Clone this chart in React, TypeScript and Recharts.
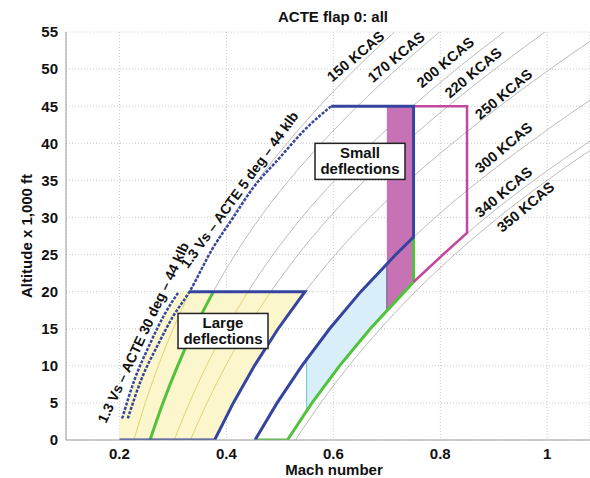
import React from "react";
import {
  ComposedChart,
  Line,
  Area,
  XAxis,
  YAxis,
  CartesianGrid,
  ReferenceArea,
  ReferenceDot,
  Label,
} from "recharts";

type Pt = [number, number];

// ---------- axes ----------
const machTicks = [0.2, 0.4, 0.6, 0.8, 1];
const altTicks = [0, 5, 10, 15, 20, 25, 30, 35, 40, 45, 50, 55];

// ---------- constant-KCAS lines: [Mach, altitude x1000 ft] ----------
const kcas150: Pt[] = [[0.2268, 0], [0.2483, 5], [0.2727, 10], [0.3004, 15], [0.3321, 20], [0.3684, 25], [0.4101, 30], [0.4584, 35], [0.5134, 40], [0.5742, 45], [0.6411, 50], [0.7142, 55]];
const kcas170: Pt[] = [[0.257, 0], [0.2813, 5], [0.3088, 10], [0.34, 15], [0.3756, 20], [0.4163, 25], [0.463, 30], [0.5168, 35], [0.5779, 40], [0.6451, 45], [0.7186, 50], [0.7985, 55]];
const kcas200: Pt[] = [[0.3024, 0], [0.3307, 5], [0.3628, 10], [0.3991, 15], [0.4404, 20], [0.4874, 25], [0.5411, 30], [0.6027, 35], [0.6722, 40], [0.7483, 45], [0.8305, 50], [0.9192, 55]];
const kcas220: Pt[] = [[0.3326, 0], [0.3637, 5], [0.3987, 10], [0.4383, 15], [0.4832, 20], [0.5343, 25], [0.5924, 30], [0.6589, 35], [0.7335, 40], [0.8146, 45], [0.9022, 50], [0.9959, 55]];
const kcas250: Pt[] = [[0.378, 0], [0.4129, 5], [0.4523, 10], [0.4967, 15], [0.5469, 20], [0.6037, 25], [0.6681, 30], [0.7412, 35], [0.8229, 40], [0.9111, 45], [1.0054, 50], [1.08, 53.75]];
const kcas300: Pt[] = [[0.4535, 0], [0.4948, 5], [0.5411, 10], [0.593, 15], [0.6513, 20], [0.7169, 25], [0.7906, 30], [0.8736, 35], [0.9653, 40], [1.0432, 44], [1.08, 45.8]];
const kcas340: Pt[] = [[0.514, 0], [0.5601, 5], [0.6115, 10], [0.669, 15], [0.7333, 20], [0.8052, 25], [0.8854, 30], [0.9752, 35], [1.0335, 38], [1.08, 40.3]];
const kcas350: Pt[] = [[0.5291, 0], [0.5764, 5], [0.6291, 10], [0.6879, 15], [0.7536, 20], [0.8269, 25], [0.9087, 30], [1.0, 35], [1.0693, 38.5], [1.08, 39.0]];

const kcasNames = ["150 KCAS", "170 KCAS", "200 KCAS", "220 KCAS", "250 KCAS", "300 KCAS", "340 KCAS", "350 KCAS"];
const kcasLabelMach = [0.598, 0.674, 0.766, 0.818, 0.875, 0.875, 0.875, 0.916];
const kcasLabelAlt = [48.2, 48.1, 47.4, 46.0, 43.1, 35.9, 29.9, 27.9];

// ---------- envelope boundaries ----------
const stall30: Pt[] = [[0.205, 2.9], [0.228, 8.1], [0.256, 12.8], [0.284, 16.9], [0.311, 20]];
const stall5: Pt[] = [[0.2156, 2.9], [0.2405, 8.1], [0.2716, 12.8], [0.2997, 16.6], [0.331, 20], [0.374, 25.8], [0.412, 29.9], [0.449, 33.9], [0.499, 38.0], [0.549, 42.0], [0.596, 45]];
const blueLarge: Pt[] = [[0.2, 0], [0.378, 0], [0.4129, 5], [0.4523, 10], [0.4967, 15], [0.5469, 20], [0.331, 20]];
const blueSmall: Pt[] = [[0.4535, 0], [0.4948, 5], [0.5411, 10], [0.593, 15], [0.6513, 20], [0.7169, 25], [0.75, 27.35], [0.75, 45], [0.596, 45]];
const greenHigh: Pt[] = [[0.455, 0], [0.514, 0], [0.5601, 5], [0.6115, 10], [0.669, 15], [0.7333, 20], [0.75, 21.3], [0.75, 27.35]];
const magentaOutline: Pt[] = [[0.75, 45], [0.85, 45], [0.85, 27.9], [0.8052, 25], [0.75, 21.3]];
const cyanEdge: Pt[] = [[0.55, 3.9], [0.55, 10.9]];
const darkEdge: Pt[] = [[0.7, 17.4], [0.7, 23.7]];

// ---------- filled regions ----------
const yellowMach = [0.2, 0.205, 0.228, 0.256, 0.284, 0.311, 0.378, 0.4129, 0.4523, 0.4967, 0.5469];
const yellowLow = [0, 0, 0, 0, 0, 0, 0, 5, 10, 15, 20];
const yellowHigh = [2.9, 2.9, 8.1, 12.8, 16.9, 20, 20, 20, 20, 20, 20];

const cyanMach = [0.55, 0.5601, 0.593, 0.6115, 0.6513, 0.669, 0.7];
const cyanLow = [3.9, 5.0, 8.2, 10.0, 13.5, 15.0, 17.4];
const cyanHigh = [10.9, 11.8, 15.0, 16.6, 20.0, 21.3, 23.7];

const magentaMach = [0.7, 0.7333, 0.75];
const magentaLow = [17.4, 20, 21.3];
const magentaHigh = [45, 45, 45];

// ---------- annotations ----------
const boxLarge = { x1: 0.3095, x2: 0.4778, y1: 12.34, y2: 17.06, lines: ["Large", "deflections"] };
const boxSmall = { x1: 0.5657, x2: 0.734, y1: 35.13, y2: 39.99, lines: ["Small", "deflections"] };
const stallLabels = [
  { text: "1.3 Vs \u2013 ACTE 30 deg \u2013 44 klb", m: 0.2445, a: 14.5, angle: -65 },
  { text: "1.3 Vs \u2013 ACTE 5 deg \u2013 44 klb", m: 0.4244, a: 33.75, angle: -54 },
];

const FONT = "'Liberation Sans', Arial, Helvetica, sans-serif";
const BLUE = "#34449f";
const GREEN = "#52c13c";
const MAGENTA = "#c4479f";
const GRAY = "#bcbcbc";
const YLINE = "#e2d46a";

const rows = (pts: Pt[]) => pts.map(([m, a]) => ({ m, a }));
const rangeRows = (ms: number[], lo: number[], hi: number[]) =>
  ms.map((m, i) => ({ m, r: [lo[i], hi[i]] }));

const kcasAll = [kcas150, kcas170, kcas200, kcas220, kcas250, kcas300, kcas340, kcas350];

const makeBox = (lines: string[]) => (props: any) => {
  const { x, y, width, height } = props;
  const cx = x + width / 2;
  const cy = y + height / 2;
  return (
    <g>
      <rect x={x} y={y} width={width} height={height} fill="#ffffff" stroke="#222" strokeWidth={1.5} />
      <text x={cx} y={cy - 3} textAnchor="middle" fontFamily={FONT} fontWeight={700} fontSize={15} fill="#111">
        {lines[0]}
      </text>
      <text x={cx} y={cy + 13} textAnchor="middle" fontFamily={FONT} fontWeight={700} fontSize={15} fill="#111">
        {lines[1]}
      </text>
    </g>
  );
};

export default function App() {
  return (
    <div style={{ position: "relative", width: 590, height: 478, background: "#fff" }}>
      <style>{`body{margin:0;background:#fff}`}</style>
      <div
        style={{
          position: "absolute",
          top: 8,
          left: 0,
          width: 590,
          paddingLeft: 76,
          boxSizing: "border-box",
          textAlign: "center",
          fontFamily: FONT,
          fontWeight: 700,
          fontSize: 15,
          color: "#111",
          lineHeight: "18px",
        }}
      >
        ACTE flap 0: all
      </div>
      <ComposedChart width={590} height={478} margin={{ top: 32, right: 0, bottom: 8, left: 0 }}>
        <CartesianGrid stroke="#cccccc" strokeDasharray="1 2" />
        <XAxis
          type="number"
          dataKey="m"
          domain={[0.1, 1.08]}
          ticks={machTicks}
          allowDataOverflow
          height={30}
          tickLine={false}
          axisLine={{ stroke: "#9c9c9c" }}
          tick={{ fill: "#111", fontSize: 15, fontWeight: 700, fontFamily: FONT }}
          tickFormatter={(v: number) => String(v)}
        >
          <Label
            content={(p: any) => {
              const vb = p.viewBox || {};
              return (
                <text x={vb.x + vb.width / 2 + 6} y={vb.y + 35} textAnchor="middle" fontFamily={FONT} fontWeight={700} fontSize={15} fill="#111">
                  Mach number
                </text>
              );
            }}
          />
        </XAxis>
        <YAxis
          type="number"
          domain={[0, 55]}
          ticks={altTicks}
          allowDataOverflow
          width={66}
          tickLine={false}
          axisLine={{ stroke: "#9c9c9c" }}
          tick={{ fill: "#111", fontSize: 15, fontWeight: 700, fontFamily: FONT }}
        >
          <Label
            content={(p: any) => {
              const vb = p.viewBox || {};
              const x = vb.x + 26;
              const y = vb.y + vb.height / 2;
              return (
                <text x={x} y={y} transform={`rotate(-90 ${x} ${y})`} textAnchor="middle" dominantBaseline="central" fontFamily={FONT} fontWeight={700} fontSize={15} fill="#111">
                  Altitude x 1,000 ft
                </text>
              );
            }}
          />
        </YAxis>

        {kcasAll.map((pts, i) => (
          <Line key={"k" + i} data={rows(pts)} dataKey="a" type="monotone" stroke={GRAY} strokeWidth={1} dot={false} activeDot={false} isAnimationActive={false} zIndex={100} />
        ))}

        <Area data={rangeRows(yellowMach, yellowLow, yellowHigh)} dataKey="r" type="linear" fill="#fbf6cc" fillOpacity={1} stroke="none" isAnimationActive={false} zIndex={200} />
        <Area data={rangeRows(cyanMach, cyanLow, cyanHigh)} dataKey="r" type="linear" fill="#d8eff9" fillOpacity={1} stroke="none" isAnimationActive={false} zIndex={200} />
        <Area data={rangeRows(magentaMach, magentaLow, magentaHigh)} dataKey="r" type="linear" fill="#c872b6" fillOpacity={1} stroke="none" isAnimationActive={false} zIndex={200} />

        {[kcas150, kcas200, kcas220].map((pts, i) => (
          <Line key={"y" + i} data={rows(pts.slice(0, 5))} dataKey="a" type="monotone" stroke={YLINE} strokeWidth={1} dot={false} activeDot={false} isAnimationActive={false} zIndex={300} />
        ))}

        <Line data={rows(cyanEdge)} dataKey="a" type="linear" stroke="#6cc3d6" strokeWidth={1} dot={false} activeDot={false} isAnimationActive={false} zIndex={310} />
        <Line data={rows(darkEdge)} dataKey="a" type="linear" stroke="#6a5a8c" strokeWidth={1} dot={false} activeDot={false} isAnimationActive={false} zIndex={310} />

        <Line data={rows(kcas170.slice(0, 5))} dataKey="a" type="monotone" stroke={GREEN} strokeWidth={3} dot={false} activeDot={false} isAnimationActive={false} zIndex={320} />
        <Line data={rows(greenHigh)} dataKey="a" type="linear" stroke={GREEN} strokeWidth={3} dot={false} activeDot={false} isAnimationActive={false} zIndex={320} />
        <Line data={rows(magentaOutline)} dataKey="a" type="linear" stroke={MAGENTA} strokeWidth={2.5} dot={false} activeDot={false} isAnimationActive={false} zIndex={330} />
        <Line data={rows(blueLarge)} dataKey="a" type="linear" stroke={BLUE} strokeWidth={3} dot={false} activeDot={false} isAnimationActive={false} zIndex={340} />
        <Line data={rows(blueSmall)} dataKey="a" type="linear" stroke={BLUE} strokeWidth={3} dot={false} activeDot={false} isAnimationActive={false} zIndex={340} />
        <Line data={rows(stall30)} dataKey="a" type="monotone" stroke={BLUE} strokeWidth={2.5} strokeDasharray="3 1.5" dot={false} activeDot={false} isAnimationActive={false} zIndex={340} />
        <Line data={rows(stall5)} dataKey="a" type="monotone" stroke={BLUE} strokeWidth={2.5} strokeDasharray="3 1.5" dot={false} activeDot={false} isAnimationActive={false} zIndex={340} />

        {[boxLarge, boxSmall].map((b, i) => (
          <ReferenceArea key={"b" + i} x1={b.x1} x2={b.x2} y1={b.y1} y2={b.y2} shape={makeBox(b.lines)} zIndex={900} />
        ))}

        {kcasNames.map((name, i) => (
          <ReferenceDot
            key={"l" + i}
            x={kcasLabelMach[i]}
            y={kcasLabelAlt[i]}
            r={1}
            zIndex={950}
            shape={(p: any) => (
              <text x={p.cx} y={p.cy} transform={`rotate(-40 ${p.cx} ${p.cy})`} textAnchor="start" fontFamily={FONT} fontWeight={700} fontSize={14.5} fill="#111">
                {name}
              </text>
            )}
          />
        ))}

        {stallLabels.map((s, i) => (
          <ReferenceDot
            key={"s" + i}
            x={s.m}
            y={s.a}
            r={1}
            zIndex={950}
            shape={(p: any) => (
              <text x={p.cx} y={p.cy} transform={`rotate(${s.angle} ${p.cx} ${p.cy})`} textAnchor="middle" dominantBaseline="central" fontFamily={FONT} fontWeight={700} fontSize={14} fill="#111">
                {s.text}
              </text>
            )}
          />
        ))}
      </ComposedChart>
    </div>
  );
}
